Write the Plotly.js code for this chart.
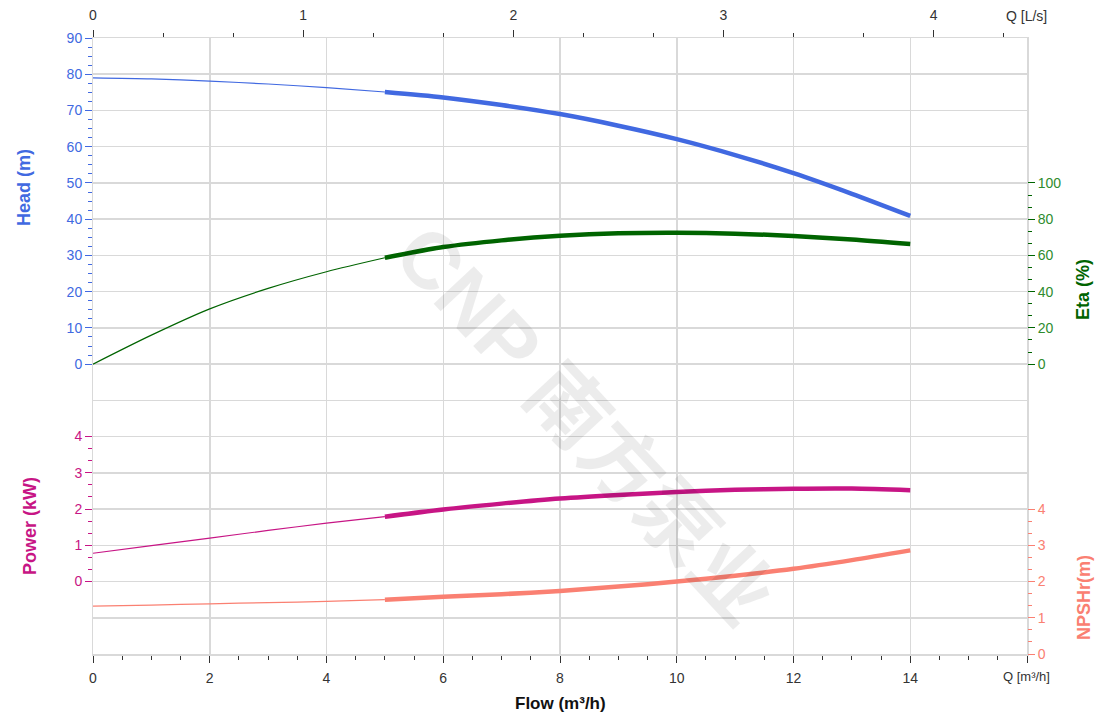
<!DOCTYPE html>
<html>
<head>
<meta charset="utf-8">
<script src="https://cdn.plot.ly/plotly-3.0.1.min.js"></script>
<style>html,body{margin:0;padding:0;background:#fff;}#chart{width:1120px;height:718px;}</style>
</head>
<body>
<div id="chart"></div>
<script>
// ---- data ----
const flowThin  = [0, 1, 2, 3, 4, 5];
const flowThick = [5, 6, 7, 8, 9, 10, 11, 12, 13, 14];

const headThin  = [79.0, 78.7, 78.1, 77.3, 76.3, 75.1];
const headThick = [75.1, 73.6, 71.5, 69.0, 65.8, 62.1, 57.7, 52.7, 47.0, 40.9];

const etaThin   = [0, 16.0, 30.5, 41.8, 51.0, 58.7];
const etaThick  = [58.7, 64.6, 68.3, 70.8, 72.2, 72.5, 72.0, 70.7, 68.8, 66.3];

const powerThin  = [0.78, 0.99, 1.20, 1.41, 1.61, 1.79];
const powerThick = [1.79, 1.99, 2.15, 2.29, 2.39, 2.47, 2.53, 2.56, 2.565, 2.52];

const npshThin  = [1.32, 1.35, 1.385, 1.42, 1.45, 1.50];
const npshThick = [1.50, 1.58, 1.65, 1.74, 1.86, 2.00, 2.16, 2.35, 2.59, 2.86];

const flowTicks  = [0, 2, 4, 6, 8, 10, 12, 14, 16];
const flowLabels = ['0', '2', '4', '6', '8', '10', '12', '14', ''];
const lsTicks    = [0, 1, 2, 3, 4];
const headTicks  = [0, 10, 20, 30, 40, 50, 60, 70, 80, 90];
const etaTicks   = [0, 20, 40, 60, 80, 100];
const powerTicks = [0, 1, 2, 3, 4];
const npshTicks  = [0, 1, 2, 3, 4];

// ---- colours ----
const cHead = '#4169E1', cEta = '#006400', cEtaTick = '#2e8b2e', cPow = '#C71585', cNpsh = '#FA8072';
const gridC = '#d9d9d9';
const FONT = 'Liberation Sans, Arial, sans-serif';

function minorVals(lo, hi, step, majors) {
  const out = [];
  for (let v = lo; v <= hi + 1e-9; v += step) {
    const r = Math.round(v * 1000) / 1000;
    if (!majors.some(m => Math.abs(m - r) < 1e-6)) out.push(r);
  }
  return out;
}

function seg(x, y, yax, color, w) {
  return {x: x, y: y, xaxis: 'x', yaxis: yax, mode: 'lines', type: 'scatter',
          line: {color: color, width: w, shape: 'spline', smoothing: 0.8},
          hoverinfo: 'skip', showlegend: false};
}

const traces = [
  {x: [0], y: [0], xaxis: 'x', yaxis: 'y', mode: 'markers', marker: {opacity: 0}, hoverinfo: 'skip', showlegend: false},
  {x: [0], y: [0], xaxis: 'x2', yaxis: 'y', mode: 'markers', marker: {opacity: 0}, hoverinfo: 'skip', showlegend: false},
  seg(flowThin, headThin, 'y2', cHead, 1.2),
  seg(flowThick, headThick, 'y2', cHead, 4.5),
  seg(flowThin, etaThin, 'y3', cEta, 1.2),
  seg(flowThick, etaThick, 'y3', cEta, 4.5),
  seg(flowThin, powerThin, 'y4', cPow, 1.2),
  seg(flowThick, powerThick, 'y4', cPow, 4.5),
  seg(flowThin, npshThin, 'y5', cNpsh, 1.2),
  seg(flowThick, npshThick, 'y5', cNpsh, 4.5)
];

// plot area in pixels: x 93..1027, y 38..654
const L = 93, R = 1027, T = 38, B = 654;
const px = v => (v - L) / (R - L);
const py = v => (B - v) / (B - T);

function yAx(range, ticks, minor, color, tickColor, side) {
  return {
    overlaying: 'y', side: side, anchor: 'x', range: range,
    tickmode: 'array', tickvals: ticks, ticks: 'outside', ticklen: 7, tickwidth: 1,
    tickcolor: color, tickfont: {family: FONT, size: 14, color: tickColor},
    showgrid: false, zeroline: false, showline: false, fixedrange: true,
    minor: {tickmode: 'array', tickvals: minor, ticks: 'outside', ticklen: 4, tickwidth: 1, tickcolor: color, showgrid: false}
  };
}

function ann(text, x, y, size, color, angle, extra) {
  return Object.assign({text: text, xref: 'paper', yref: 'paper', x: px(x), y: py(y),
    xanchor: 'center', yanchor: 'middle', showarrow: false, textangle: angle || 0,
    font: {family: FONT, size: size, color: color}}, extra || {});
}

const layout = {
  width: 1120, height: 718,
  margin: {l: L, r: 1120 - R, t: T, b: 718 - B, pad: 0},
  paper_bgcolor: '#fff', plot_bgcolor: '#fff',
  showlegend: false,
  font: {family: FONT, size: 14, color: '#333'},
  xaxis: {
    range: [0, 16], tickmode: 'array', tickvals: flowTicks, ticktext: flowLabels,
    ticks: 'outside', ticklen: 7, tickcolor: '#333', tickwidth: 1, ticklabelstandoff: 4,
    tickfont: {family: FONT, size: 14, color: '#333'},
    showgrid: true, gridcolor: gridC, gridwidth: 1.5, zeroline: false,
    showline: true, linecolor: gridC, linewidth: 1.5, mirror: true,
    minor: {dtick: 0.5, tick0: 0, ticks: 'outside', ticklen: 4, tickcolor: '#333', tickwidth: 1, showgrid: false},
    fixedrange: true
  },
  xaxis2: {
    overlaying: 'x', side: 'top', anchor: 'y', range: [0, 16 / 3.6],
    tickmode: 'array', tickvals: lsTicks, ticks: 'outside', ticklen: 7, tickcolor: '#333', tickwidth: 1, ticklabelstandoff: 4,
    tickfont: {family: FONT, size: 14, color: '#333'},
    showgrid: false, zeroline: false, showline: false,
    minor: {dtick: 1 / 3, tick0: 0, ticks: 'outside', ticklen: 4, tickcolor: '#333', tickwidth: 1, showgrid: false},
    fixedrange: true
  },
  yaxis: {
    range: [0, 17], dtick: 1, tick0: 0, showticklabels: false, ticks: '',
    showgrid: true, gridcolor: gridC, gridwidth: 1.5, zeroline: false,
    showline: true, linecolor: gridC, linewidth: 1.5, mirror: true, fixedrange: true
  },
  yaxis2: yAx([-80, 90], headTicks, minorVals(0, 90, 2.5, headTicks), cHead, cHead, 'left'),
  yaxis3: yAx([-160, 180], etaTicks, minorVals(0, 100, 20 / 3, etaTicks), cEta, cEtaTick, 'right'),
  yaxis4: yAx([-2, 15], powerTicks, minorVals(0, 4, 1 / 3, powerTicks), cPow, cPow, 'left'),
  yaxis5: yAx([0, 17], npshTicks, minorVals(0, 4, 1 / 3, npshTicks), cNpsh, cNpsh, 'right'),
  annotations: [
    ann('CNP 南方泵业', 585, 425, 80, 'rgba(0,0,0,0.075)', 47,
        {font: {family: 'Liberation Sans, Noto Sans CJK SC, sans-serif', size: 80, color: 'rgba(0,0,0,0.075)', weight: 'bold'}}),
    ann('<b>Head (m)</b>', 24, 188, 18, cHead, -90),
    ann('<b>Power (kW)</b>', 30, 526, 18, cPow, -90),
    ann('<b>Eta (%)</b>', 1083, 290, 18, cEta, -90),
    ann('<b>NPSHr(m)</b>', 1084, 598, 18, cNpsh, -90),
    ann('<b>Flow (m³/h)</b>', 560, 703, 17, '#111', 0),
    ann('Q [L/s]', 1026, 16, 14, '#333', 0),
    ann('Q [m³/h]', 1026, 676, 13, '#333', 0)
  ]
};

Plotly.newPlot('chart', traces, layout, {staticPlot: true, displayModeBar: false});
</script>
</body>
</html>
